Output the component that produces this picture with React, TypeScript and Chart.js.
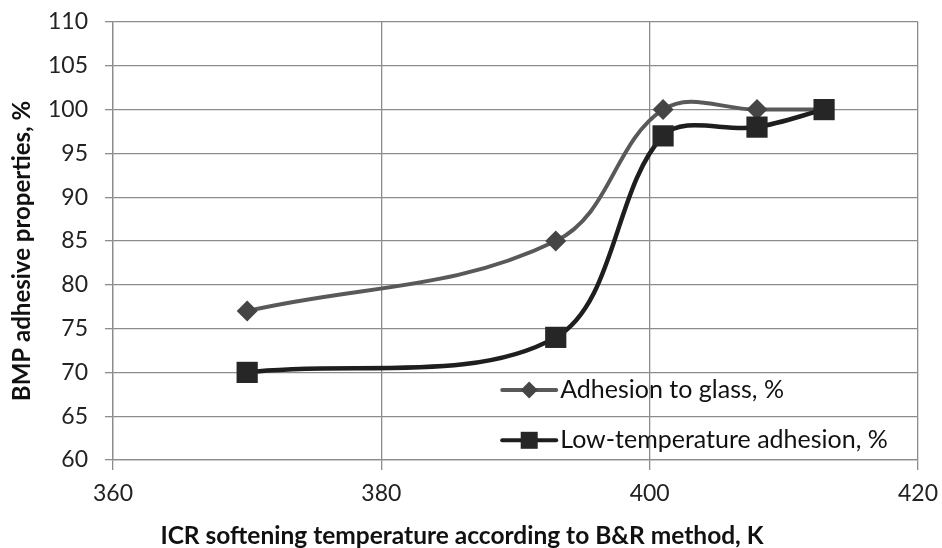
import React, { useEffect, useRef } from "react";
import { Chart, registerables } from "chart.js";

Chart.register(...registerables);

const xValues = [370, 393, 401, 408, 413];
const glassValues = [77, 85, 100, 100, 100];
const lowTempValues = [70, 74, 97, 98, 100];
const seriesLabels = ["Adhesion to glass, %", "Low-temperature adhesion, %"];
const xTitle = "ICR softening temperature according to B&R method, K";
const yTitle = "BMP adhesive properties, %";

const FONT = "Lato, 'Liberation Sans', sans-serif";
const GLASS_COLOR = "#595959";
const GLASS_FILL = "#454545";
const LOW_COLOR = "#1e1e1e";
const LOW_FILL = "#262626";
const GRID = "#8c8c8c";

const overlayPlugin = {
  id: "overlay",
  afterDraw(chart: any) {
    const ctx = chart.ctx;
    const area = chart.chartArea;
    ctx.save();
    ctx.fillStyle = "#111";
    ctx.font = `bold 24px ${FONT}`;
    ctx.textAlign = "center";
    ctx.textBaseline = "middle";
    ctx.translate(22, (area.top + area.bottom) / 2 + 10);
    ctx.rotate(-Math.PI / 2);
    ctx.fillText(yTitle, 0, 0);
    ctx.restore();

    ctx.save();
    ctx.fillStyle = "#111";
    ctx.font = `bold 24.5px ${FONT}`;
    ctx.textAlign = "center";
    ctx.textBaseline = "middle";
    ctx.fillText(xTitle, 462, area.bottom + 76);
    ctx.restore();

    const lx = area.left + (area.right - area.left) * 0.481;
    const rows = [
      { y: area.top + (area.bottom - area.top) * 0.84, color: GLASS_COLOR, fill: GLASS_FILL, style: "diamond", label: seriesLabels[0] },
      { y: area.top + (area.bottom - area.top) * 0.955, color: LOW_COLOR, fill: LOW_FILL, style: "square", label: seriesLabels[1] },
    ];
    rows.forEach((r) => {
      ctx.save();
      ctx.strokeStyle = r.color;
      ctx.lineWidth = 4;
      ctx.lineCap = "round";
      ctx.beginPath();
      ctx.moveTo(lx + 2, r.y);
      ctx.lineTo(lx + 56, r.y);
      ctx.stroke();
      const cx = lx + 29;
      ctx.fillStyle = r.fill;
      ctx.beginPath();
      if (r.style === "diamond") {
        const s = 8.5;
        ctx.moveTo(cx - s, r.y);
        ctx.lineTo(cx, r.y - s);
        ctx.lineTo(cx + s, r.y);
        ctx.lineTo(cx, r.y + s);
        ctx.closePath();
      } else {
        ctx.rect(cx - 8.5, r.y - 8.5, 17, 17);
      }
      ctx.fill();
      ctx.fillStyle = "#111";
      ctx.font = `25px ${FONT}`;
      ctx.textAlign = "left";
      ctx.textBaseline = "middle";
      ctx.fillText(r.label, lx + 60, r.y);
      ctx.restore();
    });
  },
};

export default function App() {
  const canvasRef = useRef<HTMLCanvasElement | null>(null);

  useEffect(() => {
    const canvas = canvasRef.current;
    if (!canvas) return;
    const chart = new Chart(canvas, {
      type: "line",
      data: {
        datasets: [
          {
            label: seriesLabels[0],
            data: xValues.map((x, i) => ({ x, y: glassValues[i] })),
            borderColor: GLASS_COLOR,
            backgroundColor: GLASS_FILL,
            borderWidth: 4,
            tension: 0.38,
            pointStyle: "rectRot",
            pointRadius: 10.5,
            pointBorderWidth: 0,
            pointBackgroundColor: GLASS_FILL,
            order: 1,
          },
          {
            label: seriesLabels[1],
            data: xValues.map((x, i) => ({ x, y: lowTempValues[i] })),
            borderColor: LOW_COLOR,
            backgroundColor: LOW_FILL,
            borderWidth: 4.5,
            tension: 0.34,
            pointStyle: "rect",
            pointRadius: 15,
            pointBorderWidth: 0,
            pointBackgroundColor: LOW_FILL,
            order: 0,
          },
        ],
      },
      options: {
        responsive: false,
        animation: false,
        events: [],
        layout: { padding: { left: 0, right: 24, top: 22, bottom: 0 } },
        plugins: {
          legend: { display: false },
          tooltip: { enabled: false },
          title: { display: false },
        },
        scales: {
          x: {
            type: "linear",
            min: 360,
            max: 420,
            ticks: {
              stepSize: 20,
              color: "#222",
              font: { family: FONT, size: 23 },
              padding: 10,
              maxRotation: 0,
            },
            grid: { color: GRID, lineWidth: 1.3, tickLength: 10, tickColor: GRID },
            border: { display: true, color: GRID, width: 1.3 },
            afterFit: (s: any) => {
              s.height = 88;
              s.paddingLeft = 0;
              s.paddingRight = 0;
            },
          },
          y: {
            type: "linear",
            min: 60,
            max: 110,
            ticks: {
              stepSize: 5,
              color: "#222",
              font: { family: FONT, size: 23 },
              padding: 17,
            },
            grid: { color: GRID, lineWidth: 1.3, tickLength: 8, tickColor: GRID },
            border: { display: true, color: GRID, width: 1.3 },
            afterFit: (s: any) => {
              s.width = 113;
              s.paddingTop = 0;
              s.paddingBottom = 0;
            },
          },
        },
      },
      plugins: [overlayPlugin],
    });
    return () => chart.destroy();
  }, []);

  return (
    <div style={{ position: "fixed", left: 0, top: 0, width: 942, height: 548, background: "#fff" }}>
      <canvas ref={canvasRef} width={942} height={548} />
    </div>
  );
}
